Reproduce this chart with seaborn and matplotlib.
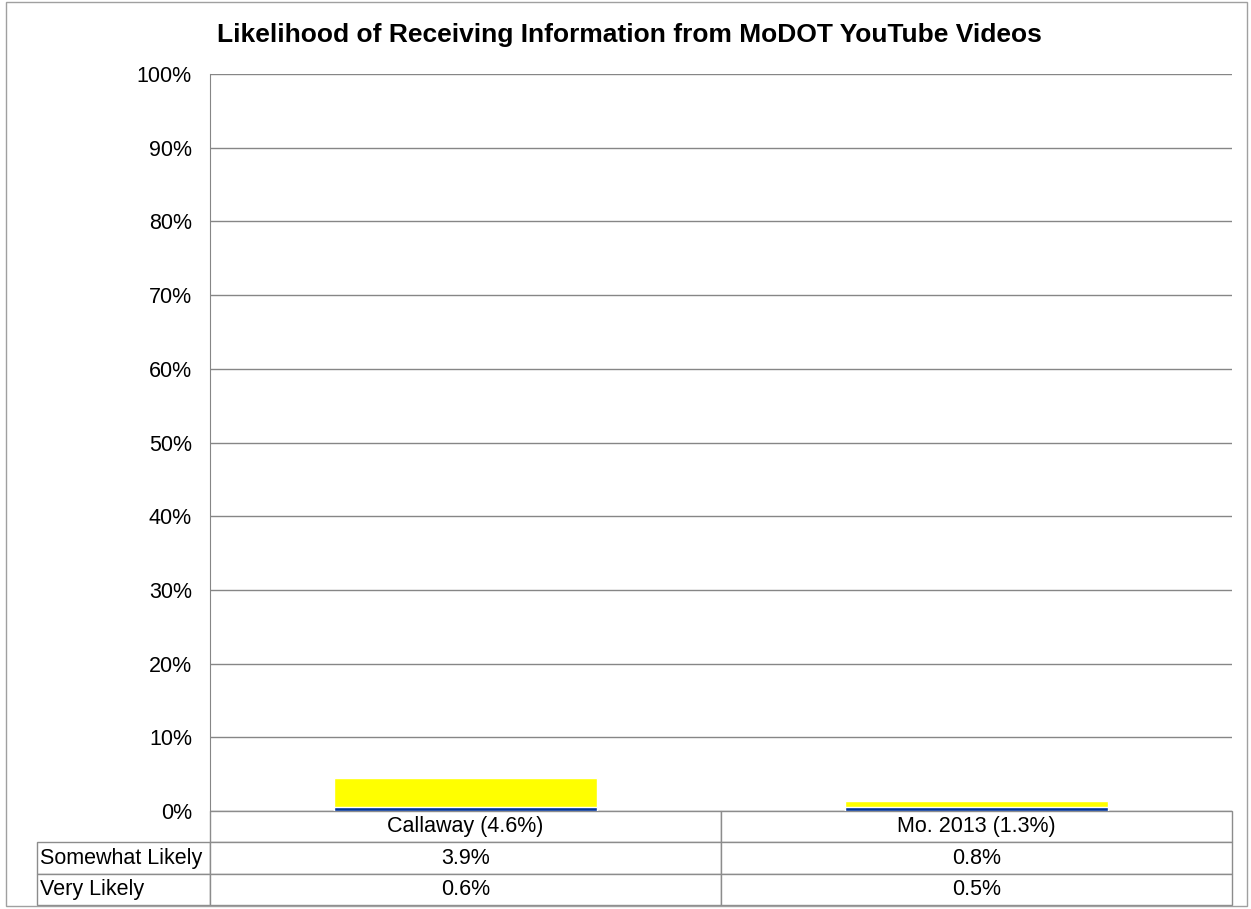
import pandas as pd
import seaborn as sns
import matplotlib.pyplot as plt
from matplotlib.patches import Rectangle

categories = ["Callaway (4.6%)", "Mo. 2013 (1.3%)"]
somewhat_likely = [3.9, 0.8]
very_likely = [0.6, 0.5]
row_labels = ["Somewhat Likely", "Very Likely"]

df = pd.DataFrame({"cat": categories, "somewhat": somewhat_likely, "very": very_likely})
df["total"] = df["somewhat"] + df["very"]

sns.set_style("white")
plt.rcParams["font.family"] = ["Liberation Sans", "DejaVu Sans"]
plt.rcParams["text.color"] = "black"
plt.rcParams["ytick.color"] = "black"

fig = plt.figure(figsize=(12.51, 9.09), dpi=100)
ax = fig.add_axes([0.1679, 0.1078, 0.8169, 0.8108])

# stacked: total in yellow, very likely drawn over it
sns.barplot(data=df, x="cat", y="total", color="#FFFF00", width=0.515,
            saturation=1, ax=ax, zorder=3)
sns.barplot(data=df, x="cat", y="very", color="#003399", width=0.515,
            saturation=1, ax=ax, zorder=4)

ax.set_ylim(0, 100)
ax.set_xlim(-0.5, 1.5)
ax.set_yticks(range(0, 101, 10))
ax.set_yticklabels([f"{v}%" for v in range(0, 101, 10)], fontsize=15.5)
ax.yaxis.grid(True, color="#868686", linewidth=1)
ax.set_axisbelow(True)
ax.tick_params(axis="y", length=0, pad=13, labelcolor="black")
ax.set_xticks([])
ax.set_xlabel("")
ax.set_ylabel("")
for s in ["top", "right", "bottom"]:
    ax.spines[s].set_visible(False)
ax.spines["left"].set_color("#868686")

# data table under the chart
cell_text = [[""] + categories,
             [row_labels[0]] + [f"{v}%" for v in somewhat_likely],
             [row_labels[1]] + [f"{v}%" for v in very_likely]]
lab_w = 173 / 1022
tbl = ax.table(cellText=cell_text, colWidths=[lab_w, 0.5, 0.5],
               bbox=[-lab_w, -94 / 737, 1 + lab_w, 94 / 737], cellLoc="center")
tbl.auto_set_font_size(False)
for (r, c), cell in tbl.get_celld().items():
    cell.set_edgecolor("#8c8c8c")
    cell.set_linewidth(1)
    cell.get_text().set_fontsize(15.5)
    cell.get_text().set_color("black")
    if c == 0:
        cell.get_text().set_ha("left")
        cell.PAD = 0.015
    if r == 0 and c == 0:
        cell.visible_edges = ""

fig.text(0.503, 1 - 35 / 909, "Likelihood of Receiving Information from MoDOT YouTube Videos",
         ha="center", va="center", fontsize=19, fontweight="bold", color="black")

fig.patches.append(Rectangle((0.005, 0.003), 0.992, 0.995, transform=fig.transFigure,
                             fill=False, edgecolor="#a0a0a0", linewidth=1))

fig.savefig("out.png", dpi=100)
